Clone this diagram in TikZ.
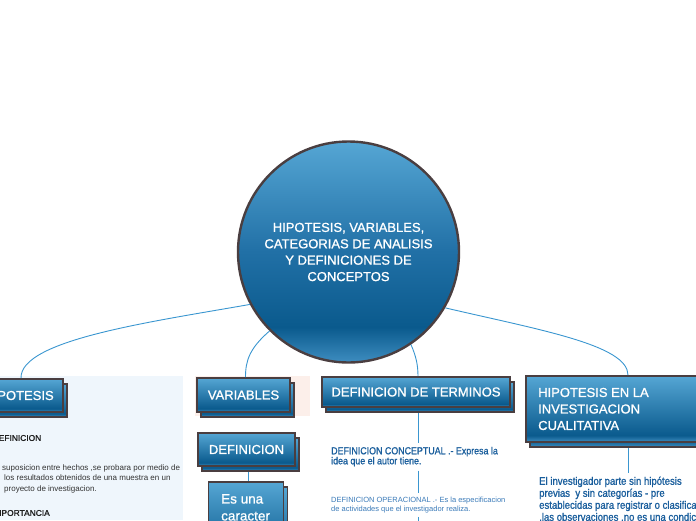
\documentclass[tikz,border=0pt]{standalone}
\usepackage{fontspec}
\setmainfont{Liberation Sans}
\newfontfamily\medfont[FakeBold=1.0]{Liberation Sans}
\newfontfamily\blunarrow[FakeBold=1.1,FakeStretch=0.87]{Liberation Sans}
\usetikzlibrary{calc}
\definecolor{shTop}{HTML}{55A6D4}
\definecolor{shMid}{HTML}{2170A6}
\definecolor{shDark}{HTML}{0A5A8D}
\definecolor{shBot}{HTML}{3E8DC0}
\definecolor{edge}{HTML}{4A3E40}
\definecolor{link}{HTML}{3A96D0}
\definecolor{txtblue}{HTML}{1A5E9C}
\definecolor{txtblue2}{HTML}{3A7AB8}
\definecolor{panelblue}{HTML}{EFF6FC}
\definecolor{panelpink}{HTML}{FCEFEA}
\definecolor{darktxt}{HTML}{1E1E1E}
\definecolor{graytxt}{HTML}{333333}
\pgfdeclareverticalshading{circshade}{100bp}{color(0bp)=(shBot); color(25bp)=(shBot); color(33bp)=(shDark); color(50bp)=(shMid); color(75bp)=(shTop); color(100bp)=(shTop)}
\pgfdeclareverticalshading{boxshade}{100bp}{color(0bp)=(shBot); color(25bp)=(shBot); color(30bp)=(shDark); color(75bp)=(shTop); color(100bp)=(shTop)}
\tikzset{
  conn/.style={draw=link, line width=0.9pt},
  topic/.style={rectangle, draw=edge, line width=1.8pt, shading=boxshade, inner sep=0pt, text=white, font=\medfont\fontsize{13}{16.5}\selectfont},
  freetext/.style={inner sep=0pt, anchor=north west, align=left},
  subtxt/.style={inner xsep=0pt, inner ysep=4pt, anchor=north west, align=left},
}
\begin{document}
\begin{tikzpicture}[x=1pt,y=-1pt]
\useasboundingbox (0,0) rectangle (696,520);
% background panels
\fill[panelblue] (0,376) rectangle (183,520);
\fill[panelpink] (195,376) rectangle (310,416);

% central topic
\node[circle, draw=edge, line width=2.4pt, shading=circshade, minimum size=221pt, inner sep=0pt, text=white, align=center, font=\medfont\fontsize{13}{16.4}\selectfont] (root) at (348.5,252) {HIPOTESIS, VARIABLES,\\CATEGORIAS DE ANALISIS\\Y DEFINICIONES DE\\CONCEPTOS};

% HIPOTESIS
\node[topic, minimum width=88pt, minimum height=33pt] (hipS) at (23,400.5) {};
\node[topic, minimum width=88pt, minimum height=33pt] (hip) at (19,395.5) {HIPOTESIS};
\node[freetext, anchor=west, font=\medfont\fontsize{8.4}{10}\selectfont, text=darktxt] (hdef) at (-7.5,438) {DEFINICION};
\node[freetext, font=\fontsize{8}{10.5}\selectfont, text=graytxt] (hpar) at (4,464.2) {\hspace*{-2pt}suposicion entre hechos ,se probara por medio de\\los resultados obtenidos de una muestra en un\\proyecto de investigacion.};
\node[freetext, anchor=west, font=\medfont\fontsize{8.4}{10}\selectfont, text=darktxt] (himp) at (-8,513) {IMPORTANCIA};

% VARIABLES
\node[topic, minimum width=93pt, minimum height=34pt] (varS) at (247.5,400) {};
\node[topic, minimum width=93pt, minimum height=34pt] (var) at (243.5,395) {VARIABLES};
\node[topic, minimum width=97pt, minimum height=33pt] (defS) at (250.5,454.5) {};
\node[topic, minimum width=97pt, minimum height=33pt] (def) at (246.5,449.5) {DEFINICION};
\node[topic, minimum width=75pt, minimum height=80pt] (esuS) at (250,527) {};
\node[topic, minimum width=75pt, minimum height=80pt] (esu) at (246,522) {};
\node[freetext, text=white, font=\medfont\fontsize{13.5}{17}\selectfont] (esuT) at (221,494) {Es una\\caracter};

% DEFINICION DE TERMINOS
\node[topic, minimum width=188pt, minimum height=30pt] (dtS) at (420,397) {};
\node[topic, minimum width=188pt, minimum height=30pt] (dt) at (416,392) {DEFINICION DE TERMINOS};
\node[subtxt, text=txtblue, font=\blunarrow\fontsize{10.2}{10}\selectfont] (c1) at (331,442.7) {DEFINICION CONCEPTUAL .- Expresa la\\idea que el autor tiene.};
\node[subtxt, text=txtblue2, font=\fontsize{7.5}{8.8}\selectfont] (c2) at (331,492.6) {DEFINICION OPERACIONAL .- Es la especificacion\\de actividades que el investigador realiza.};

% HIPOTESIS EN LA INVESTIGACION CUALITATIVA
\node[topic, minimum width=200pt, minimum height=66pt] (hqS) at (630,414) {};
\node[topic, minimum width=200pt, minimum height=66pt] (hq) at (626,409) {};
\node[freetext, text=white, font=\medfont\fontsize{13}{16.5}\selectfont] (hqT) at (538,387.7) {HIPOTESIS EN LA\\INVESTIGACION\\CUALITATIVA};
\node[subtxt, text=txtblue, font=\blunarrow\fontsize{11}{12}\selectfont] (hqP) at (539,472.5) {El investigador parte sin hipótesis\\previas \ y sin categorías - pre\\establecidas para registrar o clasificar\\,las observaciones ,no es una condición};

% connectors from the central topic
\draw[conn] (root.208.6) .. controls (150,322) and (20,340) .. ($(hip.north)+(2,0)$);
\draw[conn] (root.225) .. controls (250,348) and (245.5,360) .. ($(var.north)+(2,0)$);
\draw[conn] (root.304) .. controls (416,356) and (418,365) .. ($(dt.north)+(2,0)$);
\draw[conn] (root.330) .. controls (540,330) and (628,345) .. ($(hq.north)+(2,0)$);

% vertical connectors
\coordinate (dtx) at ($(dt.south)+(2,0)$);
\coordinate (hqx) at ($(hq.south)+(2,0)$);
\coordinate (defx) at ($(def.south)+(2,0)$);
\coordinate (dtEnd) at (418,530);
\draw[conn] (dtx |- dtS.south) -- (dtx |- c1.north);
\draw[conn] (dtx |- c1.south) -- (dtx |- c2.north);
\draw[conn] (dtx |- c2.south) -- (dtEnd);
\draw[conn] (hqx |- hqS.south) -- (hqx |- hqP.north);
\draw[conn] (defx |- defS.south) -- (defx |- esu.north);
\end{tikzpicture}
\end{document}
